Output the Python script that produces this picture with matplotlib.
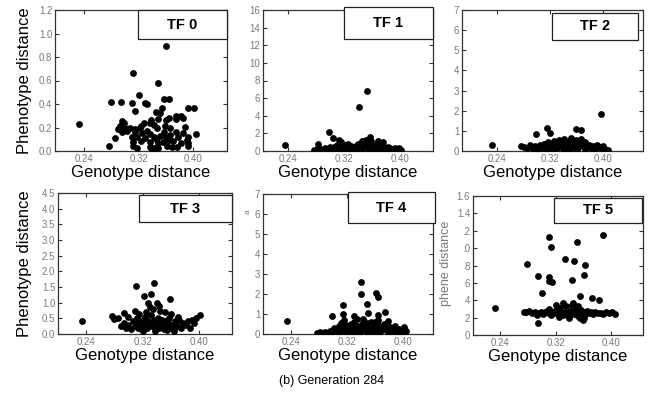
import matplotlib
matplotlib.use("Agg")
import matplotlib.pyplot as plt
from matplotlib.patches import Rectangle

plt.rcParams["font.family"] = ["Liberation Sans", "DejaVu Sans"]

# ---- data (genotype distance, phenotype distance) ----
tf0_x = [0.361, 0.311, 0.348, 0.321, 0.279, 0.294, 0.310, 0.330, 0.333, 0.357, 0.364, 0.232,
         0.393, 0.402, 0.276, 0.285,
         0.315, 0.346, 0.354, 0.352, 0.375, 0.383, 0.375, 0.386, 0.295, 0.298, 0.293, 0.338,
         0.349, 0.361, 0.365, 0.337, 0.342, 0.328, 0.324, 0.315, 0.290, 0.300, 0.308, 0.322,
         0.347, 0.359, 0.366, 0.388, 0.295, 0.303, 0.314, 0.325, 0.333, 0.337, 0.358, 0.375,
         0.386, 0.361, 0.310, 0.317, 0.330, 0.342, 0.352, 0.366, 0.378, 0.393, 0.404, 0.391,
         0.311, 0.324, 0.337, 0.346, 0.349, 0.356, 0.365, 0.371, 0.383, 0.393, 0.312, 0.317,
         0.337, 0.342, 0.346, 0.348, 0.339, 0.362, 0.369, 0.376, 0.393]
tf0_y = [0.89, 0.666, 0.576, 0.477, 0.42, 0.417, 0.406, 0.41, 0.40, 0.445, 0.445, 0.227,
         0.366, 0.366, 0.04, 0.113,
         0.34, 0.335, 0.363, 0.32, 0.298, 0.298, 0.275, 0.284, 0.258, 0.235, 0.213, 0.264,
         0.27, 0.264, 0.278, 0.235, 0.221, 0.235, 0.213, 0.184, 0.184, 0.2, 0.2, 0.193,
         0.2, 0.213, 0.2, 0.207, 0.165, 0.173, 0.165, 0.15, 0.173, 0.145, 0.165, 0.165,
         0.156, 0.122, 0.116, 0.122, 0.108, 0.122, 0.128, 0.136, 0.122, 0.122, 0.142, 0.094,
         0.079, 0.085, 0.079, 0.1, 0.065, 0.079, 0.094, 0.088, 0.071, 0.065, 0.042, 0.023,
         0.031, 0.023, 0.028, 0.023, 0.014, 0.042, 0.037, 0.031, 0.042]

tf1_x = [0.353, 0.341, 0.298, 0.304, 0.357, 0.359, 0.368, 0.375, 0.236, 0.282,
         0.277, 0.282, 0.287, 0.292, 0.296, 0.300, 0.303, 0.306, 0.309, 0.312, 0.314, 0.316,
         0.318, 0.320, 0.322, 0.324, 0.326, 0.328, 0.330, 0.332, 0.334, 0.336, 0.338, 0.340,
         0.342, 0.344, 0.346, 0.348, 0.350, 0.352, 0.354, 0.356, 0.358, 0.360, 0.362, 0.365,
         0.368, 0.371, 0.374, 0.377, 0.380, 0.383, 0.386, 0.389, 0.392, 0.395, 0.398, 0.401,
         0.318, 0.330, 0.344, 0.360, 0.372, 0.385, 0.310, 0.325, 0.340, 0.355, 0.365,
         0.313, 0.316, 0.346, 0.351]
tf1_y = [6.86, 4.96, 2.16, 1.52, 1.55, 1.18, 1.1, 0.99, 0.65, 0.8,
         0.15, 0.3, 0.2, 0.35, 0.25, 0.4, 0.15, 0.5, 0.3, 0.6, 0.2, 0.9,
         0.45, 0.7, 0.25, 0.55, 0.8, 0.35, 0.6, 0.15, 0.45, 0.3, 0.65, 0.2,
         0.5, 0.85, 0.35, 1.0, 0.4, 0.6, 0.25, 0.75, 0.3, 0.5, 0.2, 0.45,
         0.3, 0.55, 0.2, 0.4, 0.25, 0.5, 0.3, 0.15, 0.35, 0.2, 0.3, 0.15,
         0.1, 0.05, 0.1, 0.08, 0.1, 0.05, 0.7, 0.3, 0.75, 0.55, 0.7,
         1.2, 1.05, 1.15, 1.2]

tf2_x = [0.397, 0.315, 0.320, 0.298, 0.359, 0.367, 0.352, 0.232,
         0.276, 0.281, 0.285, 0.290, 0.294, 0.297, 0.300, 0.304, 0.307, 0.310, 0.313, 0.316,
         0.318, 0.320, 0.323, 0.326, 0.328, 0.330, 0.333, 0.335, 0.337, 0.339, 0.341, 0.343,
         0.345, 0.347, 0.349, 0.351, 0.353, 0.355, 0.357, 0.359, 0.361, 0.363, 0.365, 0.367,
         0.369, 0.372, 0.375, 0.378, 0.381, 0.384, 0.387, 0.390, 0.393, 0.396, 0.399, 0.403,
         0.407, 0.315, 0.325, 0.345, 0.360, 0.372, 0.385, 0.300, 0.330, 0.340, 0.350, 0.356]
tf2_y = [1.83, 1.16, 0.88, 0.85, 1.08, 1.03, 0.63, 0.30,
         0.25, 0.2, 0.15, 0.3, 0.1, 0.25, 0.2, 0.3, 0.15, 0.35, 0.2, 0.45,
         0.1, 0.3, 0.2, 0.5, 0.35, 0.15, 0.55, 0.3, 0.45, 0.1, 0.6, 0.25,
         0.4, 0.15, 0.5, 0.3, 0.2, 0.45, 0.35, 0.55, 0.15, 0.4, 0.25, 0.6,
         0.3, 0.45, 0.2, 0.3, 0.15, 0.25, 0.1, 0.3, 0.2, 0.15, 0.25, 0.1,
         0.05, 0.05, 0.08, 0.05, 0.05, 0.08, 0.05, 0.05, 0.25, 0.35, 0.1, 0.2]

tf3_x = [0.311, 0.336, 0.322, 0.332, 0.328, 0.340, 0.359, 0.234, 0.276, 0.280, 0.294,
         0.309, 0.352, 0.401,
         0.290, 0.293, 0.297, 0.300, 0.303, 0.306, 0.309, 0.312, 0.314, 0.316, 0.318, 0.320,
         0.322, 0.324, 0.326, 0.328, 0.330, 0.332, 0.334, 0.336, 0.338, 0.340, 0.342, 0.344,
         0.346, 0.348, 0.350, 0.352, 0.354, 0.356, 0.358, 0.360, 0.362, 0.364, 0.366, 0.369,
         0.372, 0.375, 0.378, 0.381, 0.384, 0.387, 0.390, 0.393, 0.396, 0.335, 0.345, 0.325,
         0.330, 0.343, 0.315, 0.310, 0.320, 0.338, 0.355, 0.365, 0.300, 0.285, 0.360, 0.370]
tf3_y = [1.545, 1.64, 1.21, 1.28, 0.98, 0.98, 1.12, 0.43, 0.59, 0.47, 0.66,
         0.75, 0.71, 0.61,
         0.25, 0.35, 0.2, 0.3, 0.15, 0.4, 0.25, 0.5, 0.2, 0.35, 0.15, 0.45,
         0.3, 0.55, 0.2, 0.4, 0.3, 0.6, 0.25, 0.45, 0.15, 0.35, 0.5, 0.2,
         0.3, 0.45, 0.15, 0.4, 0.25, 0.35, 0.5, 0.2, 0.3, 0.15, 0.4, 0.25,
         0.45, 0.2, 0.35, 0.3, 0.4, 0.2, 0.45, 0.35, 0.5, 0.8, 0.75, 0.7,
         0.85, 0.9, 0.65, 0.4, 0.1, 0.1, 0.12, 0.1, 0.55, 0.5, 0.65, 0.55]

tf4_x = [0.340, 0.340, 0.362, 0.364, 0.314, 0.348, 0.374, 0.235, 0.298, 0.314, 0.316,
         0.330, 0.334, 0.350, 0.365, 0.343, 0.379,
         0.277, 0.281, 0.285, 0.289, 0.293, 0.296, 0.299, 0.302, 0.305, 0.308, 0.310, 0.313,
         0.315, 0.318, 0.320, 0.322, 0.324, 0.326, 0.328, 0.330, 0.332, 0.334, 0.336, 0.338,
         0.340, 0.342, 0.344, 0.346, 0.348, 0.350, 0.352, 0.354, 0.356, 0.358, 0.360, 0.362,
         0.364, 0.366, 0.368, 0.370, 0.373, 0.376, 0.379, 0.382, 0.385, 0.388, 0.391, 0.394,
         0.397, 0.401, 0.404, 0.312, 0.330, 0.345, 0.355, 0.365, 0.320, 0.335, 0.357]
tf4_y = [2.62, 2.0, 2.03, 1.87, 1.45, 1.48, 1.12, 0.67, 0.9, 1.0, 0.7,
         0.92, 0.75, 1.03, 0.95, 0.73, 0.67,
         0.05, 0.08, 0.05, 0.1, 0.05, 0.15, 0.1, 0.3, 0.15, 0.4, 0.1, 0.3,
         0.2, 0.45, 0.1, 0.35, 0.2, 0.5, 0.1, 0.3, 0.15, 0.4, 0.25, 0.1,
         0.35, 0.5, 0.2, 0.4, 0.1, 0.3, 0.55, 0.2, 0.4, 0.15, 0.6, 0.3,
         0.45, 0.1, 0.35, 0.2, 0.5, 0.25, 0.1, 0.35, 0.15, 0.4, 0.1, 0.25,
         0.05, 0.35, 0.15, 0.55, 0.6, 0.65, 0.6, 0.7, 0.05, 0.05, 0.05]

tf5_x = [0.389, 0.310, 0.314, 0.351, 0.334, 0.347, 0.279, 0.363, 0.361, 0.295, 0.311,
         0.310, 0.315, 0.343, 0.301, 0.355, 0.373, 0.382, 0.233, 0.295,
         0.274, 0.278, 0.282, 0.286, 0.290, 0.293, 0.296, 0.299, 0.302, 0.305, 0.308, 0.311,
         0.313, 0.316, 0.318, 0.321, 0.323, 0.325, 0.327, 0.329, 0.331, 0.333, 0.335, 0.337,
         0.339, 0.341, 0.343, 0.345, 0.347, 0.349, 0.351, 0.353, 0.355, 0.357, 0.359, 0.361,
         0.363, 0.365, 0.368, 0.371, 0.374, 0.377, 0.381, 0.385, 0.389, 0.393, 0.397, 0.401,
         0.405, 0.320, 0.330, 0.345, 0.352, 0.310, 0.340, 0.360, 0.325, 0.355]
tf5_y = [1.147, 1.124, 1.016, 1.07, 0.874, 0.851, 0.817, 0.805, 0.69, 0.682, 0.671,
         0.625, 0.606, 0.633, 0.483, 0.452, 0.426, 0.403, 0.31, 0.142,
         0.27, 0.26, 0.28, 0.25, 0.26, 0.23, 0.25, 0.27, 0.24, 0.26, 0.28, 0.25,
         0.23, 0.27, 0.25, 0.29, 0.24, 0.26, 0.31, 0.25, 0.23, 0.27, 0.33, 0.25,
         0.22, 0.28, 0.35, 0.26, 0.24, 0.3, 0.27, 0.22, 0.25, 0.29, 0.26, 0.2,
         0.24, 0.28, 0.25, 0.27, 0.24, 0.26, 0.25, 0.25, 0.24, 0.26, 0.25, 0.26,
         0.24, 0.34, 0.37, 0.37, 0.33, 0.3, 0.19, 0.17, 0.21, 0.2]

panel_titles = ["TF 0", "TF 1", "TF 2", "TF 3", "TF 4", "TF 5"]
xs = [tf0_x, tf1_x, tf2_x, tf3_x, tf4_x, tf5_x]
ys = [tf0_y, tf1_y, tf2_y, tf3_y, tf4_y, tf5_y]

x_ticks = [0.24, 0.32, 0.40]
x_ticklabels = ["0.24", "0.32", "0.40"]
y_ticks = [
    [0.0, 0.2, 0.4, 0.6, 0.8, 1.0, 1.2],
    [0, 2, 4, 6, 8, 10, 12, 14, 16],
    [0, 1, 2, 3, 4, 5, 6, 7],
    [0.0, 0.5, 1.0, 1.5, 2.0, 2.5, 3.0, 3.5, 4.0, 4.5],
    [0, 1, 2, 3, 4, 5, 6, 7],
    [0.0, 0.2, 0.4, 0.6, 0.8, 1.0, 1.2, 1.4, 1.6],
]
y_ticklabels = [
    ["0.0", "0.2", "0.4", "0.6", "0.8", "1.0", "1.2"],
    ["0", "2", "4", "6", "8", "10", "12", "14", "16"],
    ["0", "1", "2", "3", "4", "5", "6", "7"],
    ["0.0", "0.5", "1.0", "1.5", "2.0", "2.5", "3.0", "3.5", "4.0", "4.5"],
    ["0", "1", "2", "3", "4", "5", "6", "7"],
    ["0", "2", "4", "6", "8", ".0", ".2", "1.4", "1.6"],   # clipped in the source scan
]

# ---- layout (pixel-matched to the 654x407 scan) ----
W, H = 654, 407
axes_px = [(55, 10, 227, 151), (263, 10, 433, 151), (462, 10, 643, 151),
           (58, 193, 232, 334), (263, 194, 433, 334), (473, 196, 643, 335)]
xlims = [(0.197, 0.450), (0.204, 0.447), (0.187, 0.460),
         (0.200, 0.447), (0.200, 0.443), (0.201, 0.446)]
# label box in axes fractions: left, right, bottom, top
boxes = [(0.48, 1.0, 0.794, 1.0), (0.476, 1.0, 0.794, 1.02), (0.497, 0.972, 0.787, 0.979),
         (0.466, 1.0, 0.794, 0.986), (0.50, 1.01, 0.793, 1.014), (0.476, 0.994, 0.806, 0.986)]

fig = plt.figure(figsize=(W / 100, H / 100), dpi=100)
tick_grey = "#7a7a7a"

for i in range(6):
    l, t, r, b = axes_px[i]
    ax = fig.add_axes([l / W, 1 - b / H, (r - l) / W, (b - t) / H])
    ax.scatter(xs[i], ys[i], s=24, color="black", linewidths=0, zorder=3)
    ax.set_xlim(*xlims[i])
    ax.set_ylim(y_ticks[i][0], y_ticks[i][-1])
    ax.set_xticks(x_ticks)
    ax.set_xticklabels(x_ticklabels)
    ax.set_yticks(y_ticks[i])
    ax.set_yticklabels(y_ticklabels[i])
    ax.tick_params(direction="in", length=3, width=0.8, top=True, right=True,
                   labelsize=7, labelcolor=tick_grey, color="#333333", pad=2)
    for sp in ax.spines.values():
        sp.set_color("#333333")
        sp.set_linewidth(0.9)

    bl, br, bb, bt = boxes[i]
    ax.add_patch(Rectangle((bl, bb), br - bl, bt - bb, transform=ax.transAxes,
                           facecolor="white", edgecolor="#222222", lw=0.9,
                           clip_on=False, zorder=5))
    ax.text((bl + br) / 2, (bb + bt) / 2, panel_titles[i], transform=ax.transAxes,
            ha="center", va="center", fontsize=10.5, fontweight="bold", zorder=6)

    ax.text(0.5, -0.155, "Genotype distance", transform=ax.transAxes,
            ha="center", va="center", fontsize=12)

# y labels on the left column
for i in (0, 3):
    l, t, r, b = axes_px[i]
    fig.text(25 / W, 1 - (t + b) / 2 / H, "Phenotype distance", rotation=90,
             ha="center", va="center", fontsize=12)

# faint leftovers in the scan
fig.text(446 / W, 1 - 263 / H, "phene distance", rotation=90, ha="center", va="center",
         fontsize=9, color=tick_grey)
fig.text(248 / W, 1 - 212 / H, "a", rotation=90, ha="center", va="center",
         fontsize=6, color=tick_grey)

fig.text(332 / W, 1 - 381 / H, "(b) Generation 284", ha="center", va="center", fontsize=9)

fig.savefig("out.png", dpi=100)
